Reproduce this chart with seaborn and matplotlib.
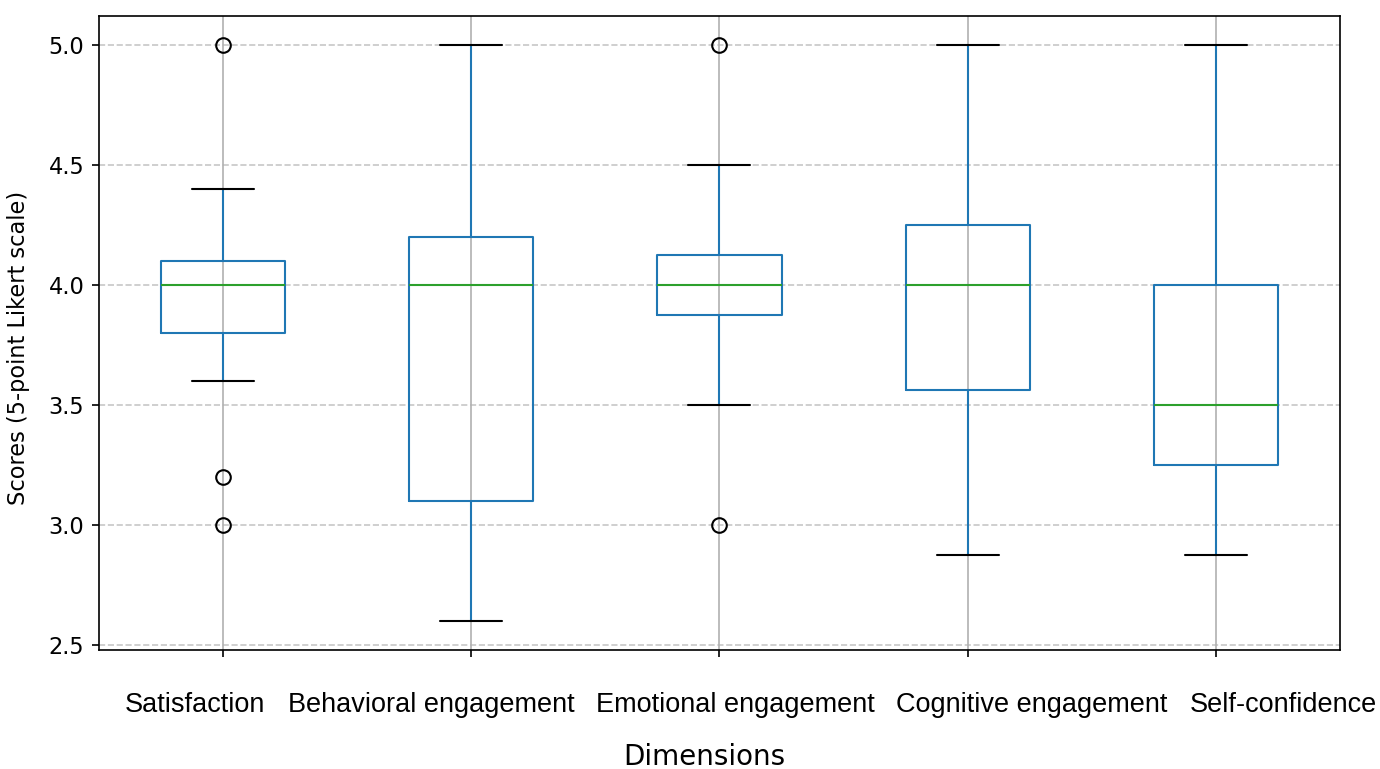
"""Box plot of survey dimension scores (5-point Likert)."""

import matplotlib

matplotlib.use("Agg")
import matplotlib.pyplot as plt
import seaborn as sns

# --- data ------------------------------------------------------------------
dimensions = [
    "Satisfaction",
    "Behavioral engagement",
    "Emotional engagement",
    "Cognitive engagement",
    "Self-confidence",
]
q1 = [3.8, 3.1, 3.875, 3.5625, 3.25]
median = [4.0, 4.0, 4.0, 4.0, 3.5]
q3 = [4.1, 4.2, 4.125, 4.25, 4.0]
whisker_low = [3.6, 2.6, 3.5, 2.875, 2.875]
whisker_high = [4.4, 5.0, 4.5, 5.0, 5.0]
fliers = [[5.0, 3.2, 3.0], [], [5.0, 3.0], [], []]
yticks = [2.5, 3.0, 3.5, 4.0, 4.5, 5.0]

# horizontal nudge of each category label (data units), as in the reference
label_shift = [-0.113, -0.161, 0.064, 0.258, 0.27]

sns.set_style("ticks")
plt.rcParams["font.family"] = ["DejaVu Sans"]
plt.rcParams["text.color"] = "black"
plt.rcParams["axes.labelcolor"] = "black"
plt.rcParams["xtick.color"] = "black"
plt.rcParams["ytick.color"] = "black"

fig = plt.figure(figsize=(9.2, 5.127), dpi=150)
ax = fig.add_axes([0.0717, 0.155, 0.8993, 0.824])

stats = [
    {
        "label": name,
        "q1": a,
        "med": m,
        "q3": b,
        "whislo": lo,
        "whishi": hi,
        "fliers": fl,
    }
    for name, a, m, b, lo, hi, fl in zip(
        dimensions, q1, median, q3, whisker_low, whisker_high, fliers
    )
]

blue = "#1f77b4"
ax.bxp(
    stats,
    showfliers=True,
    boxprops=dict(color=blue, linewidth=1.0),
    whiskerprops=dict(color=blue, linewidth=1.0),
    capprops=dict(color="black", linewidth=1.0),
    medianprops=dict(color="#2ca02c", linewidth=1.0),
    flierprops=dict(marker="o", markerfacecolor="none", markeredgecolor="black",
                    markersize=7, markeredgewidth=1.0),
)

ax.set_yticks(yticks)
ax.xaxis.grid(True, color="#b0b0b0", linewidth=0.8)
ax.yaxis.grid(True, linestyle="--", color="#b0b0b0", alpha=0.7, linewidth=0.8)
ax.set_axisbelow(True)

for side in ax.spines.values():
    side.set_color("black")
    side.set_linewidth(0.8)
ax.tick_params(axis="both", which="major", length=3.5, width=0.8,
               color="black", labelcolor="black", labelsize=10.8,
               direction="out", left=True, bottom=True)

ax.set_xticklabels([""] * len(dimensions))
for pos, name, dx in zip(ax.get_xticks(), dimensions, label_shift):
    ax.text(pos + dx, -0.087, name, transform=ax.get_xaxis_transform(),
            ha="center", va="center", fontsize=13, color="black",
            family=["Liberation Sans", "DejaVu Sans"])

ax.set_xlabel("Dimensions", fontsize=13.3, color="black")
ax.xaxis.label.set_va("center")
ax.xaxis.set_label_coords(0.488, -0.169)
ax.set_ylabel("Scores (5-point Likert scale)", fontsize=10.8, color="black")
ax.yaxis.label.set_va("center")
ax.yaxis.set_label_coords(-0.0645, 0.477)

fig.savefig("out.png", dpi=150)
plt.close(fig)
